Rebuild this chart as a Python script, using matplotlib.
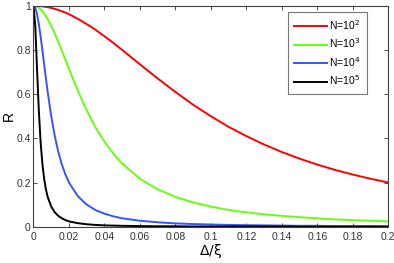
import numpy as np
import matplotlib
matplotlib.use('agg')
import matplotlib.pyplot as plt

## R versus Delta/xi for several N
delta = [0, 0.001, 0.002, 0.003, 0.004, 0.005, 0.006, 0.007, 0.008, 0.01,
         0.012, 0.014, 0.016, 0.018, 0.02, 0.025, 0.03, 0.035, 0.04, 0.045,
         0.05, 0.06, 0.07, 0.08, 0.09, 0.1, 0.11, 0.12, 0.13, 0.14,
         0.15, 0.16, 0.17, 0.18, 0.19, 0.2]

R_1e2 = [1.000, 1.000, 1.000, 0.999, 0.998, 0.998, 0.996, 0.995, 0.994, 0.990,
         0.986, 0.981, 0.975, 0.969, 0.962, 0.941, 0.917, 0.891, 0.862, 0.832,
         0.800, 0.735, 0.671, 0.610, 0.552, 0.500, 0.452, 0.410, 0.372, 0.338,
         0.308, 0.281, 0.257, 0.236, 0.217, 0.200]
R_1e3 = [1.000, 0.999, 0.996, 0.991, 0.984, 0.976, 0.965, 0.953, 0.940, 0.909,
         0.874, 0.836, 0.796, 0.755, 0.714, 0.615, 0.526, 0.449, 0.385, 0.331,
         0.286, 0.217, 0.169, 0.135, 0.110, 0.091, 0.076, 0.065, 0.056, 0.049,
         0.043, 0.038, 0.033, 0.030, 0.027, 0.024]
R_1e4 = [1.000, 0.990, 0.962, 0.917, 0.862, 0.800, 0.735, 0.671, 0.610, 0.500,
         0.410, 0.338, 0.281, 0.236, 0.200, 0.138, 0.100, 0.075, 0.059, 0.047,
         0.038, 0.027, 0.020, 0.015, 0.012, 0.010, 0.008, 0.007, 0.006, 0.005,
         0.004, 0.004, 0.003, 0.003, 0.003, 0.002]
R_1e5 = [1.000, 0.909, 0.714, 0.526, 0.385, 0.286, 0.217, 0.169, 0.135, 0.091,
         0.065, 0.049, 0.038, 0.030, 0.024, 0.016, 0.011, 0.008, 0.006, 0.005,
         0.004, 0.003, 0.002, 0.002, 0.001, 0.001, 0.001, 0.001, 0.001, 0.001,
         0.000, 0.000, 0.000, 0.000, 0.000, 0.000]

labels = ['N=10$^2$', 'N=10$^3$', 'N=10$^4$', 'N=10$^5$']
colors = ['#ff0000', '#66ff11', '#3355ff', '#000000']

xticks = [0, 0.02, 0.04, 0.06, 0.08, 0.1, 0.12, 0.14, 0.16, 0.18, 0.2]
xticklabels = ['0', '0.02', '0.04', '0.06', '0.08', '0.1', '0.12', '0.14', '0.16', '0.18', '0.2']
yticks = [0, 0.2, 0.4, 0.6, 0.8, 1]
yticklabels = ['0', '0.2', '0.4', '0.6', '0.8', '1']

plt.rcParams['font.family'] = ['Liberation Sans Narrow', 'Liberation Sans', 'DejaVu Sans']
plt.rcParams['mathtext.fontset'] = 'custom'
plt.rcParams['mathtext.rm'] = 'Liberation Sans Narrow'
plt.rcParams['mathtext.it'] = 'Liberation Sans Narrow'

fig = plt.figure(figsize=(3.94, 2.63), dpi=100)
ax = fig.add_axes([0.085, 0.138, 0.9005, 0.840])

for ys, c, lab in zip([R_1e2, R_1e3, R_1e4, R_1e5], colors, labels):
    ax.plot(delta, ys, color=c, lw=1.4, label=lab)

ax.set_xlim(0, 0.2)
ax.set_ylim(0, 1)
ax.set_xticks(xticks)
ax.set_xticklabels(xticklabels)
ax.set_yticks(yticks)
ax.set_yticklabels(yticklabels)
ax.tick_params(direction='in', top=True, right=True, length=3, width=0.6,
               labelsize=7.5, colors='#333333')
ax.tick_params(axis='x', pad=4)
ax.tick_params(axis='y', pad=2)
for s in ax.spines.values():
    s.set_color('#404040')
    s.set_linewidth(0.8)

ax.set_xlabel(r'$\Delta/\xi$', fontsize=10, labelpad=0)
ax.set_ylabel('R', fontsize=10)
ax.yaxis.set_label_coords(-0.05, 0.5)

leg = ax.legend(loc='upper right', bbox_to_anchor=(0.94, 0.973), borderaxespad=0,
                fontsize=7.5, fancybox=False, edgecolor='#777777', framealpha=1,
                handlelength=3.2, handletextpad=0.2, labelspacing=0.45,
                borderpad=0.6)
leg.get_frame().set_linewidth(0.8)

plt.savefig('out.png', dpi=100)
